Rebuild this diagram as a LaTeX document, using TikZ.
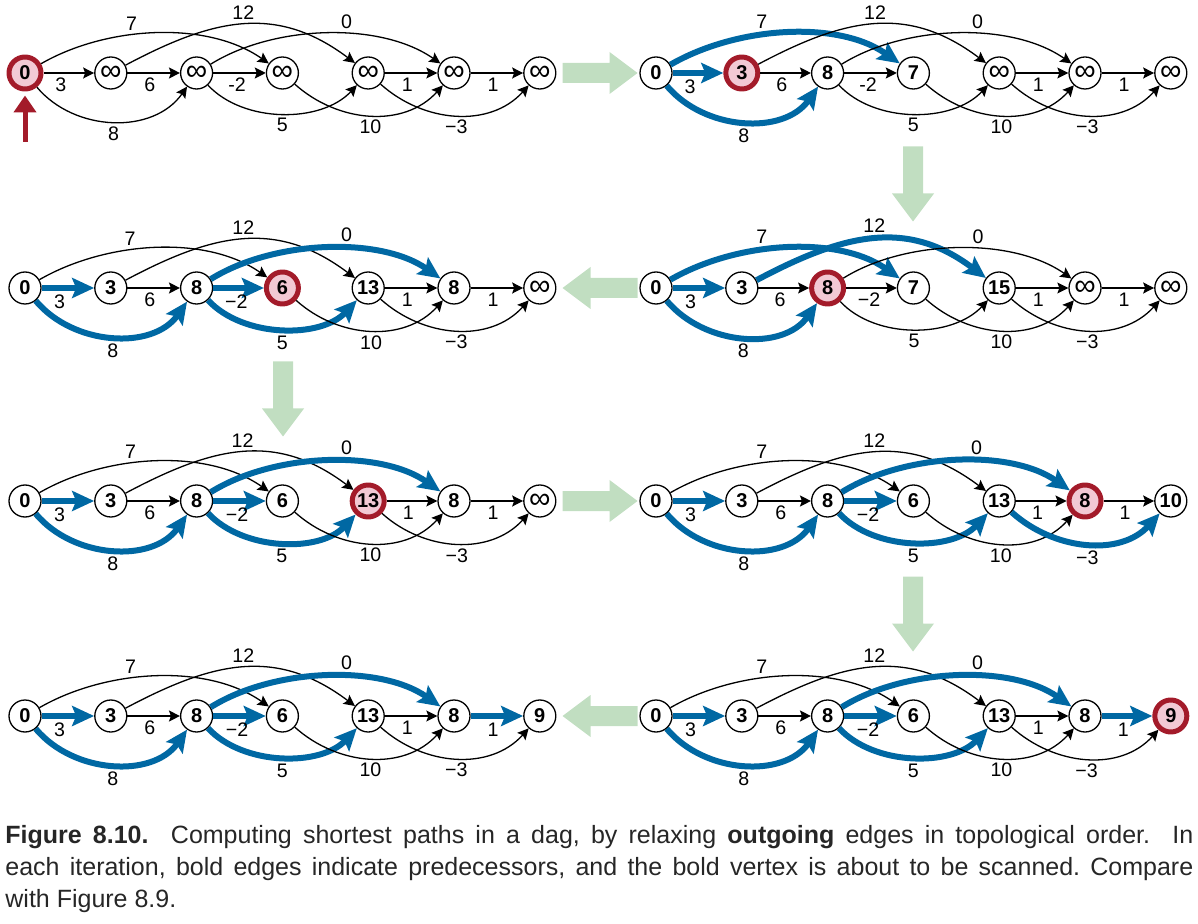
\documentclass[tikz,border=0pt]{standalone}
\usepackage{fontspec}
\setmainfont{Liberation Sans}
\usetikzlibrary{arrows.meta}
\frenchspacing

\definecolor{predblue}{RGB}{0,104,163}
\definecolor{scanred}{RGB}{163,27,42}
\definecolor{scanpink}{RGB}{242,201,212}
\definecolor{flowgreen}{RGB}{193,222,193}

\tikzset{
  vertex/.style={circle, draw, line width=0.65pt, fill=white, minimum size=16pt, inner sep=0pt,
    font=\bfseries\fontsize{10}{10}\selectfont},
  scan/.style={draw=scanred, line width=2.5pt, fill=scanpink},
  thinarc/.style={line width=0.65pt, -{Stealth[length=5.5pt,width=5.5pt,inset=1pt]}},
  predarc/.style={line width=3pt, draw=predblue, -{Stealth[length=11pt,width=10pt,inset=2pt]}},
  lbl/.style={font=\fontsize{9.8}{10}\selectfont, inner sep=2pt},
  pick/.style={#1/.try},
  flow/.style={fill=flowgreen},
  startarrow/.style={line width=2.5pt, draw=scanred, -{Triangle[length=8.5pt,width=11pt]}, shorten >=2pt},
  caption/.style={font=\fontsize{12.5}{16}\selectfont, inner sep=0pt, text=black!85},
}

\newcommand{\unk}{{\mdseries\fontsize{15}{15}\selectfont ∞}}

% one step of the scan: #1 prefix, #2 origin, #3 distances, #4 marked vertex/edges, #5 label of 2->3
\newcommand{\dagpanel}[5]{%
  \begin{scope}[shift={(#2)},#4]
    \foreach \dist [count=\k from 0] in {#3}
      \node[vertex,pick/.expanded=v\k] (#1\k) at (\k*85.8,0) {\dist};
    \foreach \src/\dst/\aout/\ain/\loose/\wt/\lpos/\lanc in {%
        0/1/0/180/1/3/0.33/north, 1/2/0/180/1/6/0.42/north, 2/3/0/180/1/#5/0.45/north,
        4/5/0/180/1/1/0.42/north, 5/6/0/180/1/1/0.42/north,
        0/2/-50/-125/1/8/0.5/north, 2/4/-47/-133/0.9/5/0.5/north,
        3/5/-42/-132/1/10/0.5/north, 4/6/-42/-132/1/−3/0.5/north,
        0/3/30/145/0.85/7/0.4/south, 1/4/28/143/1.1/12/0.5/south,
        2/5/32/145/0.82/0/0.58/south}
      \draw[thinarc,pick/.expanded=e\src\dst] (#1\src) to[out=\aout,in=\ain,looseness=\loose]
        node[lbl,pos=\lpos,anchor=\lanc] {\wt} (#1\dst);
  \end{scope}}

% green arrow between two steps
\newcommand{\stepto}[2]{%
  \fill[flow,shift={#1},rotate=#2] (-37,-10) -- (10,-10) -- (10,-21) -- (38,0)
    -- (10,21) -- (10,10) -- (-37,10) -- cycle;}

\begin{document}
\begin{tikzpicture}[x=0.5pt,y=-0.5pt,line join=round]
\useasboundingbox (0,0) rectangle (1198,924);

\dagpanel{a}{25,73}{0,\unk,\unk,\unk,\unk,\unk,\unk}{v0/.style=scan}{-2}
\dagpanel{b}{656,73}{0,3,8,7,\unk,\unk,\unk}{v1/.style=scan,
  e01/.style=predarc,e02/.style=predarc,e03/.style=predarc}{-2}
\dagpanel{c}{656,288}{0,3,8,7,15,\unk,\unk}{v2/.style=scan,
  e01/.style=predarc,e02/.style=predarc,e03/.style=predarc,e14/.style=predarc}{−2}
\dagpanel{d}{25,288}{0,3,8,6,13,8,\unk}{v3/.style=scan,
  e01/.style=predarc,e02/.style=predarc,e23/.style=predarc,e24/.style=predarc,e25/.style=predarc}{−2}
\dagpanel{e}{25,501}{0,3,8,6,13,8,\unk}{v4/.style=scan,
  e01/.style=predarc,e02/.style=predarc,e23/.style=predarc,e24/.style=predarc,e25/.style=predarc}{−2}
\dagpanel{f}{656,501}{0,3,8,6,13,8,10}{v5/.style=scan,
  e01/.style=predarc,e02/.style=predarc,e23/.style=predarc,e24/.style=predarc,e25/.style=predarc,
  e46/.style=predarc}{−2}
\dagpanel{g}{656,716}{0,3,8,6,13,8,9}{v6/.style=scan,
  e01/.style=predarc,e02/.style=predarc,e23/.style=predarc,e24/.style=predarc,e25/.style=predarc,
  e56/.style=predarc}{−2}
\dagpanel{h}{25,716}{0,3,8,6,13,8,9}{%
  e01/.style=predarc,e02/.style=predarc,e23/.style=predarc,e24/.style=predarc,e25/.style=predarc,
  e56/.style=predarc}{−2}

% source marker
\coordinate (start) at (25,142);
\draw[startarrow] (start) -- (a0);

% order of the steps
\stepto{(599.5,73)}{0}
\stepto{(913,183.5)}{-90}
\stepto{(600.5,288)}{180}
\stepto{(283,398.5)}{-90}
\stepto{(599.5,501)}{0}
\stepto{(913,613.5)}{-90}
\stepto{(600.5,716)}{180}

% caption
\node[caption,anchor=base west] (cap1) at (5,843) {\makebox[594pt][s]{\textbf{Figure 8.10.}\ \ Computing
  shortest paths in a dag, by relaxing \textbf{outgoing} edges in topological order.\ \ In}};
\node[caption,anchor=base west] (cap2) at (5,875) {\makebox[594pt][s]{each iteration, bold edges
  indicate predecessors, and the bold vertex is about to be scanned. Compare}};
\node[caption,anchor=base west] (cap3) at (5,907) {with Figure 8.9.};
\end{tikzpicture}
\end{document}
